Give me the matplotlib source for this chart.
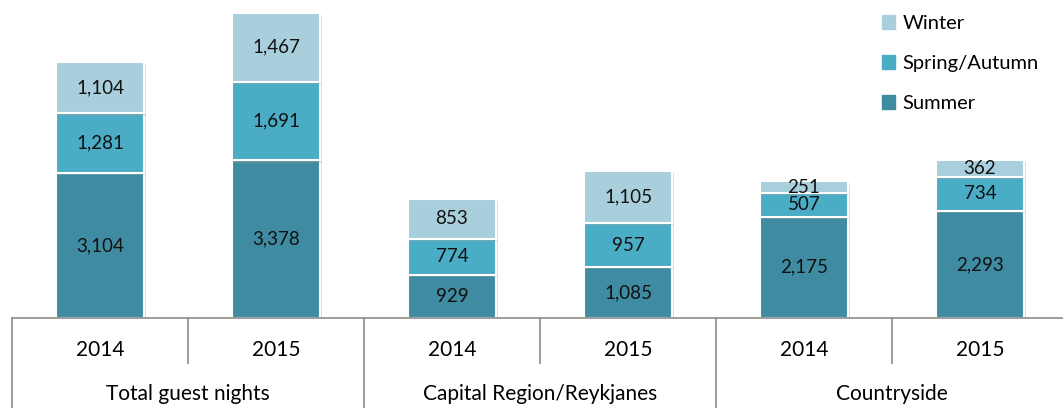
import matplotlib.pyplot as plt
import matplotlib.patheffects as pe
from matplotlib.patches import Patch
from matplotlib.transforms import blended_transform_factory

plt.rcParams['font.family'] = ['Lato', 'DejaVu Sans']

years = ['2014', '2015', '2014', '2015', '2014', '2015']
groups = ['Total guest nights', 'Capital Region/Reykjanes', 'Countryside']
summer = [3104, 3378, 929, 1085, 2175, 2293]
spring_autumn = [1281, 1691, 774, 957, 507, 734]
winter = [1104, 1467, 853, 1105, 251, 362]

colors = {'Summer': '#3f8ba1', 'Spring/Autumn': '#4bacc6', 'Winter': '#a9cfdd'}

fig = plt.figure(figsize=(10.63, 4.08), dpi=100)
ax = fig.add_axes([12 / 1063, 90 / 408, 1056 / 1063, 318 / 408])

x = range(len(years))
shadow = [pe.SimplePatchShadow(offset=(1.5, -1.5), shadow_rgbFace='#999999', alpha=0.35), pe.Normal()]
bottom = [0] * len(years)
for name, vals in [('Summer', summer), ('Spring/Autumn', spring_autumn), ('Winter', winter)]:
    bars = ax.bar(x, vals, width=0.5, bottom=bottom, color=colors[name],
                  edgecolor='white', linewidth=1.5)
    for b in bars:
        b.set_path_effects(shadow)
    ax.bar_label(bars, labels=[f'{v:,}' for v in vals], label_type='center',
                 fontsize=13.5, color='#111111')
    bottom = [b0 + v for b0, v in zip(bottom, vals)]

ax.set_xlim(-0.5, 5.5)
ax.set_ylim(0, 6818)
ax.set_yticks([])
ax.set_xticks([])
for s in ['top', 'right', 'left']:
    ax.spines[s].set_visible(False)
ax.spines['bottom'].set_color('#8c8c8c')
ax.spines['bottom'].set_linewidth(1.2)

# two-level category axis
trans = blended_transform_factory(ax.transData, ax.transAxes)
for i, yr in enumerate(years):
    ax.text(i, -0.101, yr, transform=trans, ha='center', va='center', fontsize=15)
for g, name in enumerate(groups):
    ax.text(2 * g + 0.5, -0.238, name, transform=trans, ha='center', va='center', fontsize=15)
for k in range(7):
    pos = k - 0.5
    low = -0.283 if k % 2 == 0 else -0.1415
    ax.plot([pos, pos], [0, low], transform=trans, color='#8c8c8c', lw=1.2, clip_on=False)

handles = [Patch(color=colors[n]) for n in ['Winter', 'Spring/Autumn', 'Summer']]
ax.legend(handles, ['Winter', 'Spring/Autumn', 'Summer'], loc='upper left',
          bbox_to_anchor=(852 / 1056, 1.01), frameon=False, fontsize=14.5,
          handlelength=0.65, handleheight=0.65, handletextpad=0.35, labelspacing=1.15)

fig.savefig('out.png', dpi=100)
